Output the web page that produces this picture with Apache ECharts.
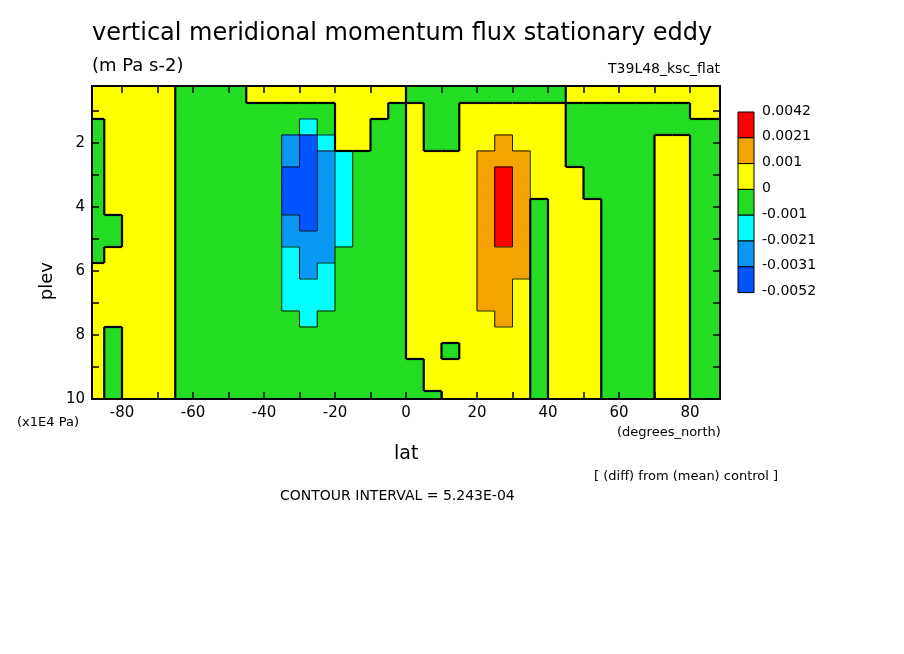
<!DOCTYPE html>
<html><head><meta charset="utf-8">
<script src="https://cdn.jsdelivr.net/npm/echarts@6/dist/echarts.min.js"></script>
<style>html,body{margin:0;padding:0;background:#fff}#c{width:904px;height:654px}</style>
</head><body><div id="c"></div>
<script>
// latitude cell centres (deg N), pressure cell centres (x1E4 Pa)
const lats = [-87.5,-82.5,-77.5,-72.5,-67.5,-62.5,-57.5,-52.5,-47.5,-42.5,-37.5,-32.5,-27.5,-22.5,-17.5,-12.5,-7.5,-2.5,2.5,7.5,12.5,17.5,22.5,27.5,32.5,37.5,42.5,47.5,52.5,57.5,62.5,67.5,72.5,77.5,82.5,87.5];
const plevs = [0.5,1.0,1.5,2.0,2.5,3.0,3.5,4.0,4.5,5.0,5.5,6.0,6.5,7.0,7.5,8.0,8.5,9.0,9.5,10.0];
// flux values in units of 1E-4 m Pa s-2, one row per plev
const flux = [
[4,4,4,4,4,-4,-4,-4,-4,4,4,4,4,4,4,4,4,4,-4,-4,-4,-4,-4,-4,-4,-4,-4,4,4,4,4,4,4,4,4,4],
[4,4,4,4,4,-4,-4,-4,-4,-4,-4,-4,-4,-4,4,4,4,-4,4,-4,-4,4,4,4,4,4,4,-4,-4,-4,-4,-4,-4,-4,4,4],
[-4,4,4,4,4,-4,-4,-4,-4,-4,-4,-4,-15,-4,4,4,-4,-4,4,-4,-4,4,4,4,4,4,4,-4,-4,-4,-4,-4,-4,-4,-4,-4],
[-4,4,4,4,4,-4,-4,-4,-4,-4,-4,-26,-40,-15,4,4,-4,-4,4,-4,-4,4,4,15,4,4,4,-4,-4,-4,-4,-4,4,4,-4,-4],
[-4,4,4,4,4,-4,-4,-4,-4,-4,-4,-26,-40,-26,-15,-4,-4,-4,4,4,4,4,15,15,15,4,4,-4,-4,-4,-4,-4,4,4,-4,-4],
[-4,4,4,4,4,-4,-4,-4,-4,-4,-4,-40,-40,-26,-15,-4,-4,-4,4,4,4,4,15,30,15,4,4,4,-4,-4,-4,-4,4,4,-4,-4],
[-4,4,4,4,4,-4,-4,-4,-4,-4,-4,-40,-40,-26,-15,-4,-4,-4,4,4,4,4,15,30,15,4,4,4,-4,-4,-4,-4,4,4,-4,-4],
[-4,4,4,4,4,-4,-4,-4,-4,-4,-4,-40,-40,-26,-15,-4,-4,-4,4,4,4,4,15,30,15,-4,4,4,4,-4,-4,-4,4,4,-4,-4],
[-4,-4,4,4,4,-4,-4,-4,-4,-4,-4,-26,-40,-26,-15,-4,-4,-4,4,4,4,4,15,30,15,-4,4,4,4,-4,-4,-4,4,4,-4,-4],
[-4,-4,4,4,4,-4,-4,-4,-4,-4,-4,-26,-26,-26,-15,-4,-4,-4,4,4,4,4,15,30,15,-4,4,4,4,-4,-4,-4,4,4,-4,-4],
[-4,4,4,4,4,-4,-4,-4,-4,-4,-4,-15,-26,-26,-4,-4,-4,-4,4,4,4,4,15,15,15,-4,4,4,4,-4,-4,-4,4,4,-4,-4],
[4,4,4,4,4,-4,-4,-4,-4,-4,-4,-15,-26,-15,-4,-4,-4,-4,4,4,4,4,15,15,15,-4,4,4,4,-4,-4,-4,4,4,-4,-4],
[4,4,4,4,4,-4,-4,-4,-4,-4,-4,-15,-15,-15,-4,-4,-4,-4,4,4,4,4,15,15,4,-4,4,4,4,-4,-4,-4,4,4,-4,-4],
[4,4,4,4,4,-4,-4,-4,-4,-4,-4,-15,-15,-15,-4,-4,-4,-4,4,4,4,4,15,15,4,-4,4,4,4,-4,-4,-4,4,4,-4,-4],
[4,4,4,4,4,-4,-4,-4,-4,-4,-4,-4,-15,-4,-4,-4,-4,-4,4,4,4,4,4,15,4,-4,4,4,4,-4,-4,-4,4,4,-4,-4],
[4,-4,4,4,4,-4,-4,-4,-4,-4,-4,-4,-4,-4,-4,-4,-4,-4,4,4,4,4,4,4,4,-4,4,4,4,-4,-4,-4,4,4,-4,-4],
[4,-4,4,4,4,-4,-4,-4,-4,-4,-4,-4,-4,-4,-4,-4,-4,-4,4,4,-4,4,4,4,4,-4,4,4,4,-4,-4,-4,4,4,-4,-4],
[4,-4,4,4,4,-4,-4,-4,-4,-4,-4,-4,-4,-4,-4,-4,-4,-4,-4,4,4,4,4,4,4,-4,4,4,4,-4,-4,-4,4,4,-4,-4],
[4,-4,4,4,4,-4,-4,-4,-4,-4,-4,-4,-4,-4,-4,-4,-4,-4,-4,4,4,4,4,4,4,-4,4,4,4,-4,-4,-4,4,4,-4,-4],
[4,-4,4,4,4,-4,-4,-4,-4,-4,-4,-4,-4,-4,-4,-4,-4,-4,-4,-4,4,4,4,4,4,-4,4,4,4,-4,-4,-4,4,4,-4,-4]
];
const levelLabels = ['0.0042','0.0021','0.001','0','-0.001','-0.0021','-0.0031','-0.0052'];
const levelBounds = [42,21,10,0,-10,-21,-31,-52]; // 1E-4 units
const levelColors = ['#ff0000','#f5a300','#ffff00','#22dd22','#00ffff','#0a98f5','#0055ff'];
const xTickLabels = [-80,-60,-40,-20,0,20,40,60,80];
const yTickLabels = [2,4,6,8,10];

const nLat = lats.length, nP = plevs.length;
const data = [];
plevs.forEach((p,i)=>lats.forEach((la,j)=>data.push([la,p,flux[i][j],i,j])));

function cls(v){ for (let k=1;k<levelBounds.length;k++){ if (v>=levelBounds[k]) return k; } return levelBounds.length; }

const pieces = [];
for (let k=0;k<levelColors.length;k++){
  pieces.push({gte: k===levelColors.length-1 ? -1e9 : levelBounds[k+1], lt: k===0 ? 1e9 : levelBounds[k], color: levelColors[k]});
}

const chart = echarts.init(document.getElementById('c'));
const font = 'DejaVu Sans';
const axisCommon = {z:10,axisLine:{show:true,onZero:false,lineStyle:{color:'#000',width:2}},splitLine:{show:false}};
const xTicks10 = [-80,-70,-60,-50,-40,-30,-20,-10,0,10,20,30,40,50,60,70,80];
const yTicks1 = [1,2,3,4,5,6,7,8,9,10];
const graphics = [];
graphics.push({type:'text',left:92,top:22,style:{text:'vertical meridional momentum flux stationary eddy',font:'24px '+font,fill:'#000'}});
graphics.push({type:'text',left:92,top:57,style:{text:'(m Pa s-2)',font:'18px '+font,fill:'#000'}});
graphics.push({type:'text',right:184,top:62,style:{text:'T39L48_ksc_flat',font:'14px '+font,fill:'#000'}});
graphics.push({type:'text',left:38,top:262,rotation:Math.PI/2,style:{text:'plev',font:'18px '+font,fill:'#000'}});
graphics.push({type:'text',left:17,top:416,style:{text:'(x1E4 Pa)',font:'13px '+font,fill:'#000'}});
graphics.push({type:'text',left:394,top:445,style:{text:'lat',font:'19px '+font,fill:'#000'}});
graphics.push({type:'text',left:617,top:426,style:{text:'(degrees_north)',font:'13px '+font,fill:'#000'}});
graphics.push({type:'text',left:594,top:470,style:{text:'[ (diff) from (mean) control ]',font:'13px '+font,fill:'#000'}});
graphics.push({type:'text',left:280,top:489,style:{text:'CONTOUR INTERVAL = 5.243E-04',font:'14px '+font,fill:'#000'}});
graphics.push({type:'rect',z:20,shape:{x:92,y:86,width:628,height:313},style:{fill:null,stroke:'#000',lineWidth:2}});
const boxH = 25.8;
levelColors.forEach((c,k)=>{
  graphics.push({type:'rect',shape:{x:738,y:112+k*boxH,width:16,height:boxH},style:{fill:c,stroke:'#000',lineWidth:1}});
});
levelLabels.forEach((t,k)=>{
  graphics.push({type:'text',left:762,top:104+k*boxH,style:{text:t,font:'14px '+font,fill:'#000'}});
});

function tickAxis(pos){ return {
  axisTick:{show:true,inside:true,length:7,customValues:(pos==='x'?xTicks10:yTicks1),lineStyle:{color:'#000',width:1.5}}}; }

function cellRect(api,params){
  const la=api.value(0), p=api.value(1);
  const a=api.coord([la-2.5,p-0.25]), b=api.coord([la+2.5,p+0.25]);
  const cs=params.coordSys;
  return {r:echarts.graphic.clipRectByRect({x:a[0],y:a[1],width:b[0]-a[0],height:b[1]-a[1]},
    {x:cs.x,y:cs.y,width:cs.width,height:cs.height}), a:a, b:b};
}

chart.setOption({
  animation:false,
  grid:{left:92,top:86,width:628,height:313},
  visualMap:{show:false,type:'piecewise',dimension:2,seriesIndex:0,pieces:pieces},
  xAxis:[
    Object.assign({type:'value',min:-88.45,max:88.45,position:'bottom',
      axisLabel:{customValues:xTickLabels,color:'#000',fontFamily:font,fontSize:15,margin:7}},axisCommon,tickAxis('x')),
    Object.assign({type:'value',min:-88.45,max:88.45,position:'top',axisLabel:{show:false}},axisCommon,tickAxis('x'))
  ],
  yAxis:[
    Object.assign({type:'value',min:0.22,max:10,inverse:true,position:'left',
      axisLabel:{customValues:yTickLabels,color:'#000',fontFamily:font,fontSize:15,margin:7}},axisCommon,tickAxis('y')),
    Object.assign({type:'value',min:0.22,max:10,inverse:true,position:'right',axisLabel:{show:false}},axisCommon,tickAxis('y'))
  ],
  series:[{
    type:'custom',xAxisIndex:0,yAxisIndex:0,data:data,z:1,
    encode:{x:0,y:1},
    renderItem:function(params,api){
      const c=cellRect(api,params); if(!c.r) return null;
      const r=c.r;
      return {type:'rect',shape:{x:r.x-0.5,y:r.y-0.5,width:r.width+1,height:r.height+1},style:{fill:api.visual('color'),stroke:null}};
    }
  },{
    type:'custom',xAxisIndex:0,yAxisIndex:0,data:data,z:2,
    encode:{x:0,y:1},
    renderItem:function(params,api){
      const v=api.value(2), i=api.value(3), j=api.value(4);
      const c=cellRect(api,params); if(!c.r) return null;
      const r=c.r, children=[], c0=cls(v);
      const x1=r.x, x2=r.x+r.width, y1=r.y, y2=r.y+r.height;
      if(j<nLat-1){ const w=flux[i][j+1]; if(cls(w)!==c0){
        const zero=(v>=0)!==(w>=0);
        children.push({type:'line',shape:{x1:x2,y1:y1,x2:x2,y2:y2},style:{stroke:'#000',lineWidth:zero?2.2:0.9}});}}
      if(i<nP-1){ const w=flux[i+1][j]; if(cls(w)!==c0){
        const zero=(v>=0)!==(w>=0);
        children.push({type:'line',shape:{x1:x1,y1:y2,x2:x2,y2:y2},style:{stroke:'#000',lineWidth:zero?2.2:0.9}});}}
      return {type:'group',children:children};
    }
  }],
  graphic:graphics
});
</script></body></html>
